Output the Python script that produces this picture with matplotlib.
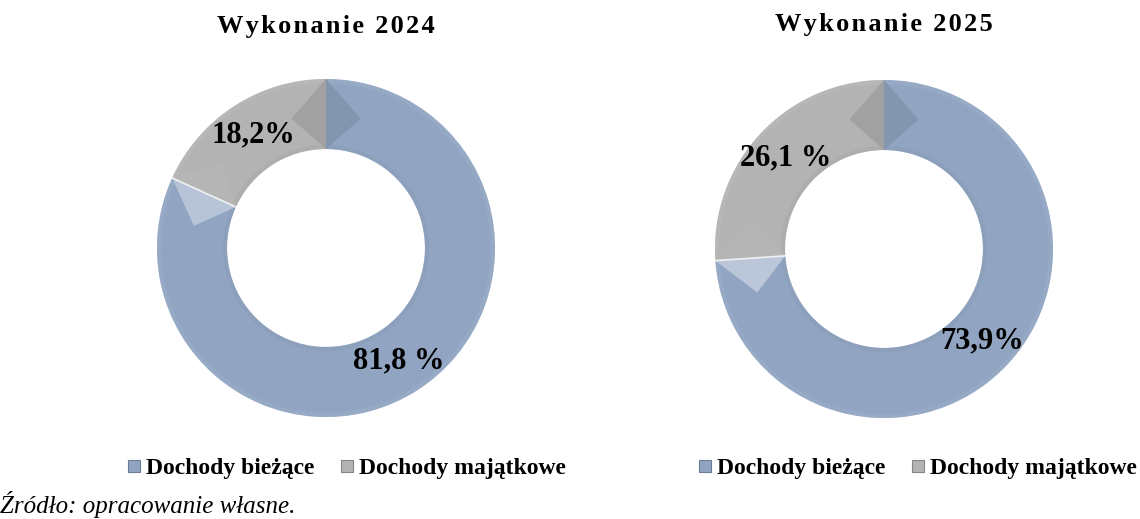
import numpy as np
import matplotlib
matplotlib.use("Agg")
import matplotlib.pyplot as plt
from matplotlib.patches import Polygon
from matplotlib.lines import Line2D

plt.rcParams['font.family'] = ['Liberation Serif', 'DejaVu Serif']

categories = ['Dochody bieżące', 'Dochody majątkowe']
years = ['Wykonanie 2024', 'Wykonanie 2025']
values_2024 = [81.8, 18.2]
values_2025 = [73.9, 26.1]
labels_2024 = ['81,8 %', '18,2%']
labels_2025 = ['73,9%', '26,1 %']

colors = ['#91a5c2', '#b3b3b3']
W, H = 1140, 519


def shade(c, k):
    rgb = np.array(matplotlib.colors.to_rgb(c))
    if k >= 0:
        rgb = rgb + (1 - rgb) * k
    else:
        rgb = rgb * (1 + k)
    return tuple(np.clip(rgb, 0, 1))


def bevel(ax, center, r_out, r_in, vals, cols):
    # pyramid-like facets at the ends of each segment
    cx, cy = center
    ring = r_out - r_in
    r_mid = (r_out + r_in) / 2
    d = ring * 0.5 / r_mid
    start = np.pi / 2
    total = sum(vals)
    for v, c in zip(vals, cols):
        span = 2 * np.pi * v / total
        a0, a1 = start, start - span
        for a, sgn in ((a0, -1), (a1, 1)):
            ny = np.cos(a) if sgn == -1 else -np.cos(a)
            if ny > 0.3:
                k = 0.38 * ny
            elif ny > -0.3:
                k = -0.1
            else:
                k = 0.02
            apex = a + sgn * d
            pts = [(cx + r_out * np.cos(a), cy + r_out * np.sin(a)),
                   (cx + r_in * np.cos(a), cy + r_in * np.sin(a)),
                   (cx + r_mid * np.cos(apex), cy + r_mid * np.sin(apex))]
            ax.add_patch(Polygon(pts, closed=True, fc=shade(c, k), ec='none', zorder=3))
            if ny > 0.3:
                ax.plot([pts[0][0], pts[1][0]], [pts[0][1], pts[1][1]],
                        color='white', lw=1.2, alpha=0.8, zorder=3.5)
        start = a1


fig = plt.figure(figsize=(W / 100, H / 100), dpi=100)
ax = fig.add_axes([0, 0, 1, 1])

charts = [
    (values_2024, labels_2024, years[0], (326, H - 248), 27),
    (values_2025, labels_2025, years[1], (884, H - 249), 24),
]
r_out, r_in = 169, 99

for vals, labs, title, center, ty in charts:
    wedges, _ = ax.pie(vals, colors=colors, startangle=90, counterclock=False,
                       center=center, radius=r_out,
                       wedgeprops=dict(width=r_out - r_in, edgecolor='none'))
    # soft rim highlight / shadow
    for w, c in zip(wedges, colors):
        w.set_zorder(2)
        th1, th2 = w.theta1, w.theta2
        for rr, kk in ((r_out - 2, 0.10), (r_in + 2, -0.06)):
            t = np.radians(np.linspace(th1, th2, 80))
            ax.plot(center[0] + rr * np.cos(t), center[1] + rr * np.sin(t),
                    color=shade(c, kk), lw=3, alpha=0.5, zorder=2.5,
                    solid_capstyle='butt')
    bevel(ax, center, r_out, r_in, vals, colors)

    total = sum(vals)
    start = 90.0
    for v, lab in zip(vals, labs):
        mid = np.radians(start - 360 * v / total / 2)
        start -= 360 * v / total
        ax.text(center[0] + 134 * np.cos(mid), center[1] + 134 * np.sin(mid), lab,
                ha='center', va='center', fontsize=22, fontweight='bold', zorder=5)

    ax.text(center[0], H - ty, '\u200a'.join(title),
            ha='center', va='center', fontsize=19, fontweight='bold')

ax.set_xlim(0, W)
ax.set_ylim(0, H)
ax.set_aspect('equal')
ax.axis('off')

handles = [Line2D([], [], ls='none', marker='s', markersize=8, markerfacecolor=c,
                  markeredgecolor=shade(c, -0.25), markeredgewidth=0.8) for c in colors]
for x in (345 / W, 916 / W):
    fig.legend(handles, categories, loc='center', bbox_to_anchor=(x, 1 - 468 / H),
               ncol=2, frameon=False, handletextpad=0.1, columnspacing=1.0,
               handlelength=0.8, prop=dict(family='Liberation Serif', weight='bold', size=17))

fig.text(0.0, 1 - 505 / H, 'Źródło: opracowanie własne.', ha='left', va='center',
         fontsize=18, style='italic')

fig.savefig('out.png', dpi=100)
